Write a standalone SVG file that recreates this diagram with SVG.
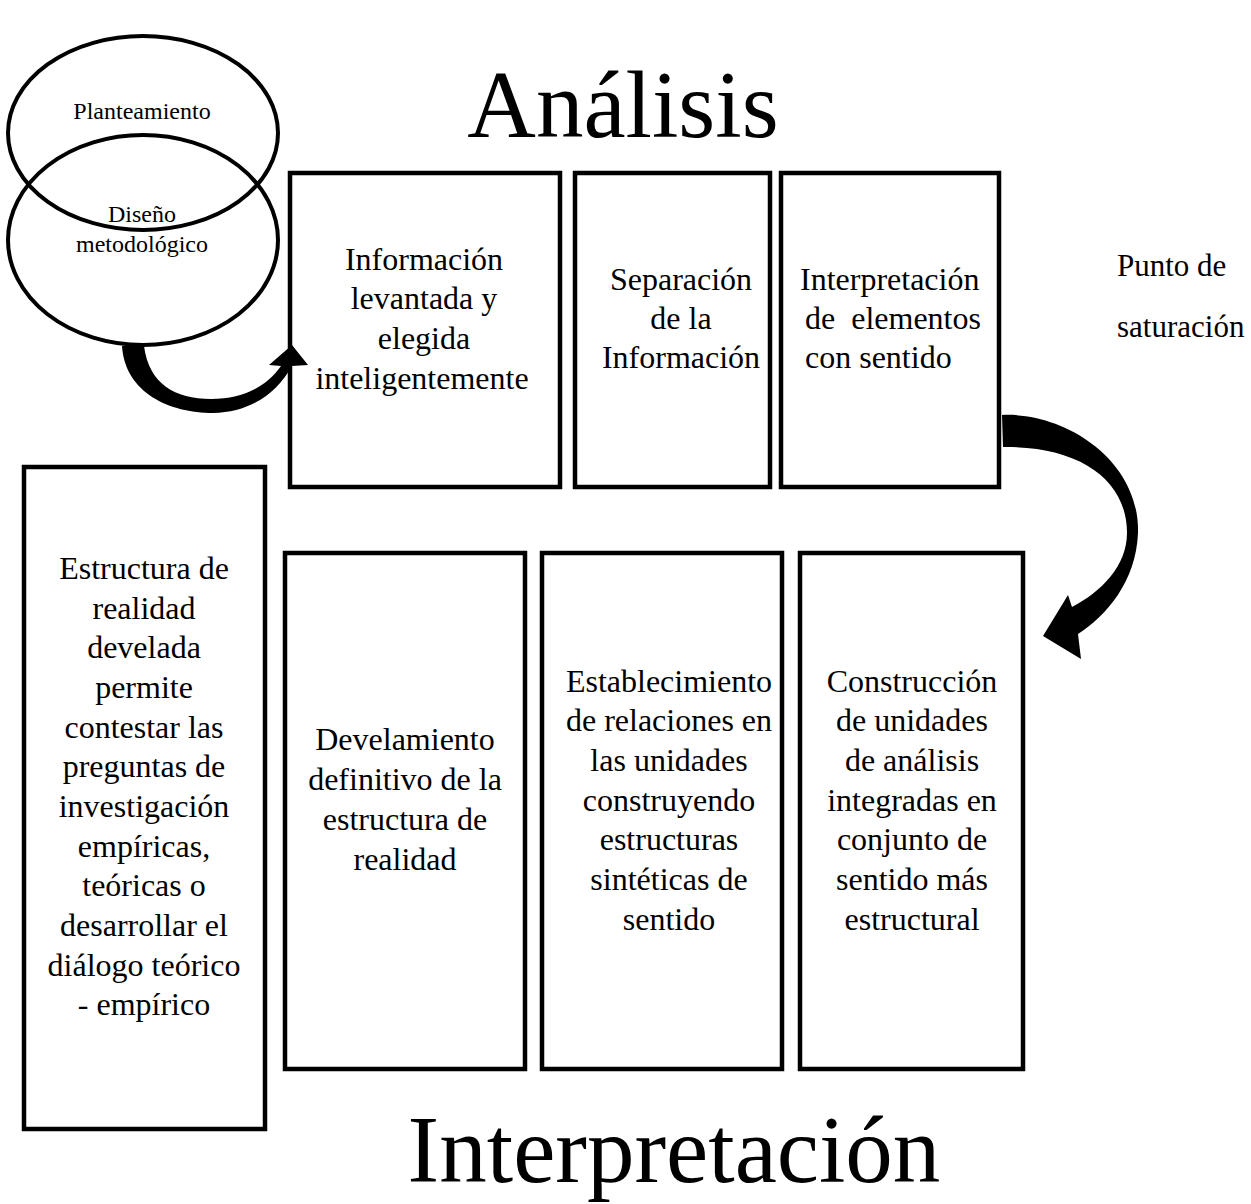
<svg xmlns="http://www.w3.org/2000/svg" width="1251" height="1204" viewBox="0 0 1251 1204">
<style>
.box{fill:none;stroke:#000;stroke-width:4.5}
.ell{fill:none;stroke:#000;stroke-width:4}
.t{font-family:"Liberation Serif","Times New Roman",serif;fill:#000}
.b{font-size:32px}
.c{font-size:24px}
.title{font-size:95px}
.mid{text-anchor:middle}
.arrow{fill:#000;stroke:none}
</style>
<rect width="1251" height="1204" fill="#fff"/>
<text class="t title mid" x="623" y="137">Análisis</text>
<text class="t title mid" x="674" y="1182">Interpretación</text>

<g id="planteamiento">
<ellipse class="ell" cx="143" cy="133" rx="135" ry="97"/>
<text class="t c mid" x="142" y="119">Planteamiento</text>
</g>
<g id="diseno">
<ellipse class="ell" cx="143" cy="240" rx="135" ry="105"/>
<text class="t c mid" x="142" y="222">Diseño</text>
<text class="t c mid" x="142" y="252">metodológico</text>
</g>

<g id="connectors">
<path class="arrow" d="M122 346 C125 393 170 413 213 413 C251 412 277 393 292 366 L308 365 L292 345 L269 365 L281 366 C267 386 244 399 211 399 C175 399 149 384 144 346 Z"/>
<path class="arrow" d="M1002 415 C1065 412 1140 460 1138 533 C1136 582 1106 616 1078 634 L1081 659 L1043 636 L1068 595 L1072 607 C1101 592 1127 566 1127 533 C1127 480 1080 446 1003 447 Z"/>
</g>

<g id="info">
<rect class="box" x="290" y="173" width="270" height="314"/>
<text class="t b mid"><tspan x="424" y="270">Información</tspan><tspan x="424" y="309">levantada y</tspan><tspan x="424" y="349">elegida</tspan><tspan x="422" y="389">inteligentemente</tspan></text>
</g>
<g id="separacion">
<rect class="box" x="575" y="173" width="195" height="314"/>
<text class="t b mid"><tspan x="681" y="290">Separación</tspan><tspan x="681" y="329">de la</tspan><tspan x="681" y="368">Información</tspan></text>
</g>
<g id="interpretacion">
<rect class="box" x="781" y="173" width="218" height="314"/>
<text class="t b"><tspan x="800" y="290">Interpretación</tspan><tspan x="805" y="329" xml:space="preserve">de  elementos</tspan><tspan x="805" y="368">con sentido</tspan></text>
</g>
<g id="saturacion">
<text class="t" font-size="31" x="1117" y="276">Punto de</text>
<text class="t" font-size="31" x="1117" y="337">saturación</text>
</g>

<g id="estructura">
<rect class="box" x="24" y="467" width="241" height="662"/>
<text class="t b mid"><tspan x="144" y="579">Estructura de</tspan><tspan x="144" y="619">realidad</tspan><tspan x="144" y="658">develada</tspan><tspan x="144" y="698">permite</tspan><tspan x="144" y="738">contestar las</tspan><tspan x="144" y="777">preguntas de</tspan><tspan x="144" y="817">investigación</tspan><tspan x="144" y="857">empíricas,</tspan><tspan x="144" y="896">teóricas o</tspan><tspan x="144" y="936">desarrollar el</tspan><tspan x="144" y="976">diálogo teórico</tspan><tspan x="144" y="1015">- empírico</tspan></text>
</g>
<g id="develamiento">
<rect class="box" x="285" y="553" width="240" height="516"/>
<text class="t b mid"><tspan x="405" y="750">Develamiento</tspan><tspan x="405" y="790">definitivo de la</tspan><tspan x="405" y="830">estructura de</tspan><tspan x="405" y="870">realidad</tspan></text>
</g>
<g id="establecimiento">
<rect class="box" x="542" y="553" width="240" height="516"/>
<text class="t b mid"><tspan x="669" y="692">Establecimiento</tspan><tspan x="669" y="731">de relaciones en</tspan><tspan x="669" y="771">las unidades</tspan><tspan x="669" y="811">construyendo</tspan><tspan x="669" y="850">estructuras</tspan><tspan x="669" y="890">sintéticas de</tspan><tspan x="669" y="930">sentido</tspan></text>
</g>
<g id="construccion">
<rect class="box" x="800" y="553" width="223" height="516"/>
<text class="t b mid"><tspan x="912" y="692">Construcción</tspan><tspan x="912" y="731">de unidades</tspan><tspan x="912" y="771">de análisis</tspan><tspan x="912" y="811">integradas en</tspan><tspan x="912" y="850">conjunto de</tspan><tspan x="912" y="890">sentido más</tspan><tspan x="912" y="930">estructural</tspan></text>
</g>
</svg>
